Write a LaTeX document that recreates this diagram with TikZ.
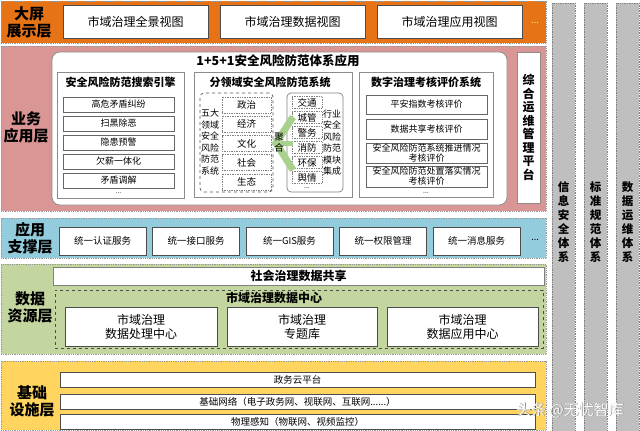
\documentclass[tikz,border=0pt]{standalone}
\usepackage{fontspec}
\setmainfont{Noto Sans CJK SC}
\definecolor{showorange}{RGB}{230,116,22}
\definecolor{apppink}{RGB}{217,150,148}
\definecolor{supportblue}{RGB}{147,205,221}
\definecolor{datagreen}{RGB}{196,214,160}
\definecolor{baseyellow}{RGB}{255,213,96}
\definecolor{sidegray}{RGB}{191,191,191}
\definecolor{arrowgreen}{RGB}{169,209,142}

\begin{document}
\begin{tikzpicture}[
    x=1pt, y=-1pt,
    band/.style={draw=gray!80, densely dotted, line width=0.8pt, inner sep=0pt},
    layerlabel/.style={font=\bfseries\fontsize{15}{17}\selectfont, align=center},
    whitebox/.style={draw=black!70, fill=white, line width=0.7pt, inner sep=1pt, align=center},
    itembox/.style={whitebox, draw=black!60, font=\fontsize{9}{10}\selectfont},
    dotbox/.style={draw=gray, densely dotted, line width=0.7pt, fill=white, inner sep=0pt, font=\fontsize{9.5}{10}\selectfont},
    subsys/.style={draw=gray!90, fill=white, line width=0.7pt, inner sep=0pt},
    subtitle/.style={font=\bfseries\fontsize{11}{12}\selectfont},
    vtext/.style={align=center, font=\fontsize{9}{11.5}\selectfont},
    moredots/.style={inner sep=0pt, font=\fontsize{7}{7}\selectfont},
    sidecol/.style={draw=gray, densely dotted, fill=sidegray, line width=0.7pt, minimum width=23pt, minimum height=428pt, inner sep=0pt},
    sidetext/.style={align=center, font=\bfseries\fontsize{11.5}{14}\selectfont}
]
\useasboundingbox (0,0) rectangle (640,431);

% Layer bands first (drawn behind)
\node[band, fill=showorange, minimum width=545pt, minimum height=42pt] (showband) at (273.5,22) {};
\node[band, fill=apppink, minimum width=545pt, minimum height=165pt] (appband) at (273.5,128.5) {};
\node[band, fill=supportblue, minimum width=545pt, minimum height=40pt] (supband) at (273.5,238) {};
\node[band, fill=datagreen, minimum width=545pt, minimum height=90pt] (databand) at (273.5,309) {};
\node[band, fill=baseyellow, minimum width=545pt, minimum height=69pt] (baseband) at (273.5,395.5) {};

% Side columns
\node[sidecol] (secure) at (563.5,217) {};
\node[sidecol] (standard) at (595.5,217) {};
\node[sidecol] (dataops) at (627.5,217) {};
\node[sidetext] (securet) at (563.5,222) {信\\息\\安\\全\\体\\系};
\node[sidetext] (standardt) at (595.5,222) {标\\准\\规\\范\\体\\系};
\node[sidetext] (dataopst) at (627.5,222) {数\\据\\运\\维\\体\\系};

% Big screen display layer
\node[layerlabel] (showlbl) at (29,22) {大屏\\展示层};
\node[whitebox, minimum width=145pt, minimum height=33pt, font=\fontsize{12}{13}\selectfont] (view1) at (135.5,21.5) {市域治理全景视图};
\node[whitebox, minimum width=145pt, minimum height=33pt, font=\fontsize{12}{13}\selectfont] (view2) at (292.5,21.5) {市域治理数据视图};
\node[whitebox, minimum width=145pt, minimum height=33pt, font=\fontsize{12}{13}\selectfont] (view3) at (449.5,21.5) {市域治理应用视图};
\node[moredots, text=yellow!70, font=\fontsize{9}{10}\selectfont] (viewdots) at (535,23) {...};

% Business application layer
\node[layerlabel] (applbl) at (26,127) {业务\\应用层};
\node[subsys, rounded corners=8pt, minimum width=455pt, minimum height=153pt] (frame) at (279.5,128.5) {};
\node[font=\bfseries\fontsize{12.5}{13}\selectfont] (frametitle) at (278,61) {1+5+1安全风险防范体系应用};

% Search engine
\node[subsys, minimum width=127pt, minimum height=126pt] (search) at (120.5,135) {};
\node[subtitle] (searcht) at (120.5,82) {安全风险防范搜索引擎};
\node[itembox, minimum width=111pt, minimum height=15pt] (s1) at (118.5,104.5) {高危矛盾纠纷};
\node[itembox, minimum width=111pt, minimum height=15pt] (s2) at (118.5,123.5) {扫黑除恶};
\node[itembox, minimum width=111pt, minimum height=15pt] (s3) at (118.5,142.5) {隐患预警};
\node[itembox, minimum width=111pt, minimum height=15pt] (s4) at (118.5,161.5) {欠薪一体化};
\node[itembox, minimum width=111pt, minimum height=15pt] (s5) at (118.5,180.5) {矛盾调解};
\node[moredots] (sdots) at (118.5,193) {...};

% Domain risk system
\node[subsys, minimum width=158pt, minimum height=125pt] (domain) at (273,134.5) {};
\node[subtitle] (domaint) at (270,82) {分领域安全风险防范系统};
\node[draw=gray!70!black, dashed, rounded corners=4pt, line width=0.7pt, minimum width=73pt, minimum height=99pt] (five) at (236.5,142.5) {};
\node[vtext] (fivet) at (210,142) {五大\\领域\\安全\\风险\\防范\\系统};
\node[dotbox, minimum width=49pt, minimum height=16pt] (d1) at (246.5,105) {政治};
\node[dotbox, minimum width=49pt, minimum height=16pt] (d2) at (246.5,124.25) {经济};
\node[dotbox, minimum width=49pt, minimum height=16pt] (d3) at (246.5,143.5) {文化};
\node[dotbox, minimum width=49pt, minimum height=16pt] (d4) at (246.5,162.75) {社会};
\node[dotbox, minimum width=49pt, minimum height=16pt] (d5) at (246.5,182) {生态};
\node[draw=gray, rounded corners=4pt, line width=0.7pt, minimum width=56pt, minimum height=99pt] (trade) at (315,142.5) {};
\node[dotbox, minimum width=30pt, minimum height=12pt] (t1) at (307,102.5) {交通};
\node[dotbox, minimum width=30pt, minimum height=12pt] (t2) at (307,117.5) {城管};
\node[dotbox, minimum width=30pt, minimum height=12pt] (t3) at (307,132.5) {警务};
\node[dotbox, minimum width=30pt, minimum height=12pt] (t4) at (307,147.5) {消防};
\node[dotbox, minimum width=30pt, minimum height=12pt] (t5) at (307,162.5) {环保};
\node[dotbox, minimum width=30pt, minimum height=12pt] (t6) at (307,177.5) {舆情};
\node[moredots] (tdots) at (307,188.5) {...};
\node[vtext] (tradet) at (332,142.5) {行业\\安全\\风险\\防范\\模块\\集成};
% Merge chevron
\coordinate (mtop) at (293,117);
\coordinate (mtip) at (276,143);
\coordinate (mbot) at (293,170);
\coordinate (mend) at (293,143);
\draw[arrowgreen, line width=7pt, line join=miter] (mtop) -- (mtip) -- (mbot);
\draw[arrowgreen, line width=5pt] (mtip) -- (mend);
\node[vtext, font=\fontsize{9.5}{11}\selectfont] (merget) at (279,143) {聚\\合};

% Digital governance evaluation
\node[subsys, minimum width=134pt, minimum height=125pt] (evals) at (426,134.5) {};
\node[subtitle] (evalst) at (426,82) {数字治理考核评价系统};
\node[itembox, minimum width=121pt, minimum height=19pt] (e1) at (426.5,104.5) {平安指数考核评价};
\node[itembox, minimum width=121pt, minimum height=20pt] (e2) at (426.5,129) {数据共享考核评价};
\node[itembox, minimum width=121pt, minimum height=20pt, inner sep=0pt] (e3) at (426.5,153) {安全风险防范系统推进情况\\考核评价};
\node[itembox, minimum width=121pt, minimum height=21pt, inner sep=0pt] (e4) at (426.5,176.5) {安全风险防范处置落实情况\\考核评价};
\node[moredots] (edots) at (426,193) {...};

% Operations platform
\node[subsys, minimum width=23pt, minimum height=151pt] (ops) at (528.5,127.5) {};
\node[sidetext, font=\bfseries\fontsize{12}{13.5}\selectfont] (opst) at (528.5,127.5) {综\\合\\运\\维\\管\\理\\平\\台};

% Application support layer
\node[layerlabel] (suplbl) at (30,238) {应用\\支撑层};
\node[whitebox, minimum width=87pt, minimum height=28pt, font=\fontsize{9.5}{10}\selectfont] (u1) at (102.5,241) {统一认证服务};
\node[whitebox, minimum width=87pt, minimum height=28pt, font=\fontsize{9.5}{10}\selectfont] (u2) at (196,241) {统一接口服务};
\node[whitebox, minimum width=87pt, minimum height=28pt, font=\fontsize{9.5}{10}\selectfont] (u3) at (289.5,241) {统一GIS服务};
\node[whitebox, minimum width=87pt, minimum height=28pt, font=\fontsize{9.5}{10}\selectfont] (u4) at (383,241) {统一权限管理};
\node[whitebox, minimum width=87pt, minimum height=28pt, font=\fontsize{9.5}{10}\selectfont] (u5) at (476.5,241) {统一消息服务};
\node[moredots, font=\fontsize{9}{10}\selectfont] (udots) at (535,240) {...};

% Data resource layer
\node[layerlabel] (datalbl) at (30,307) {数据\\资源层};
\node[whitebox, draw=gray, minimum width=491pt, minimum height=18pt, font=\bfseries\fontsize{12}{13}\selectfont] (share) at (298.5,276) {社会治理数据共享};
\node[draw=black!70, dashed, line width=0.7pt, minimum width=488pt, minimum height=58pt] (center) at (299,319) {};
\node[font=\bfseries\fontsize{12}{13}\selectfont] (centert) at (274,297.5) {市域治理数据中心};
\node[whitebox, minimum width=152pt, minimum height=39pt, font=\fontsize{12}{14}\selectfont] (c1) at (141,326.5) {市域治理\\数据处理中心};
\node[whitebox, minimum width=150pt, minimum height=39pt, font=\fontsize{12}{14}\selectfont] (c2) at (302,326.5) {市域治理\\专题库};
\node[whitebox, minimum width=151pt, minimum height=39pt, font=\fontsize{12}{14}\selectfont] (c3) at (462.5,326.5) {市域治理\\数据应用中心};

% Infrastructure layer
\node[layerlabel] (baselbl) at (32,401) {基础\\设施层};
\node[whitebox, minimum width=475pt, minimum height=15pt, font=\fontsize{9.5}{10}\selectfont] (b1) at (297.5,379.5) {政务云平台};
\node[whitebox, minimum width=475pt, minimum height=15pt, font=\fontsize{9.5}{10}\selectfont] (b2) at (297.5,401.5) {基础网络（电子政务网、视联网、互联网......）};
\node[whitebox, minimum width=475pt, minimum height=15pt, font=\fontsize{9.5}{10}\selectfont] (b3) at (297.5,421.5) {物理感知（物联网、视频监控）};

% Watermark
\node[text=black!55, font=\fontsize{15}{16}\selectfont] (wmshadow) at (570.7,410.7) {头条 @无忧智库};
\node[text=white, font=\fontsize{15}{16}\selectfont] (wm) at (570,410) {头条 @无忧智库};

\end{tikzpicture}
\end{document}
